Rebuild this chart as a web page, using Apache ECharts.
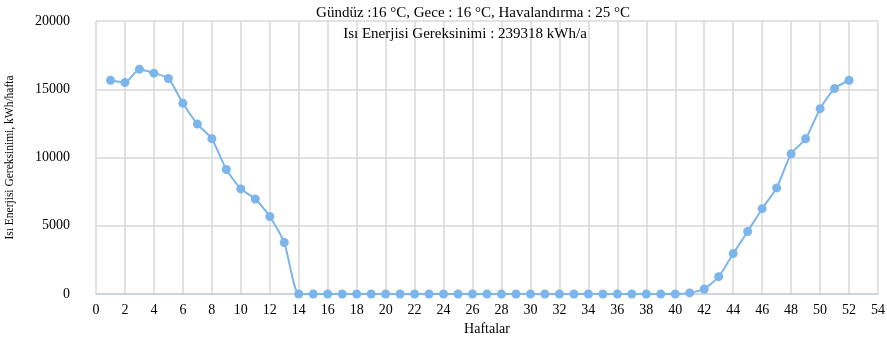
<!DOCTYPE html>
<html>
<head>
<meta charset="utf-8">
<script src="https://cdn.jsdelivr.net/npm/echarts@6/dist/echarts.min.js"></script>
<style>
html,body{margin:0;padding:0;background:#fff;}
#chart{width:887px;height:338px;}
</style>
</head>
<body>
<div id="chart"></div>
<script>
// haftalik isi enerjisi gereksinimi (kWh/hafta)
var weeks = [];
for (var w = 1; w <= 52; w++) weeks.push(w);
var heatDemand = [
  15660, 15490, 16470, 16180, 15790, 13970, 12450, 11370, 9120, 7700,
  6960, 5680, 3770, 0, 0, 0, 0, 0, 0, 0,
  0, 0, 0, 0, 0, 0, 0, 0, 0, 0,
  0, 0, 0, 0, 0, 0, 0, 0, 0, 0,
  80, 370, 1270, 2960, 4580, 6250, 7770, 10270, 11370, 13580,
  15050, 15660
];
var titleTexts = ['Gündüz :16 °C, Gece : 16 °C, Havalandırma : 25 °C', 'Isı Enerjisi Gereksinimi : 239318 kWh/a'];

var seriesData = weeks.map(function (w, i) { return [w, heatDemand[i]]; });

var myChart = echarts.init(document.getElementById('chart'));
var fontFam = '"Liberation Serif", "DejaVu Serif", serif';
option = {
  animation: false,
  textStyle: { fontFamily: fontFam },
  title: [
    {
      text: titleTexts[0],
      left: 468, top: 1, textAlign: 'center',
      textStyle: { fontSize: 15, fontWeight: 'normal', color: '#000', fontFamily: fontFam }
    },
    {
      text: titleTexts[1],
      left: 460, top: 22, textAlign: 'center',
      textStyle: { fontSize: 15, fontWeight: 'normal', color: '#000', fontFamily: fontFam }
    }
  ],
  grid: { left: 96, right: 9, top: 21, bottom: 44, outerBoundsMode: 'none', containLabel: false },
  xAxis: {
    type: 'value',
    min: 0, max: 54, interval: 2,
    name: 'Haftalar',
    nameLocation: 'middle',
    nameGap: 26,
    nameTextStyle: { fontSize: 14, color: '#000', fontFamily: fontFam },
    axisLine: { lineStyle: { color: '#c5d0e3', width: 1.5 } },
    axisTick: { show: false },
    axisLabel: { fontSize: 14, color: '#000', margin: 9, fontFamily: fontFam },
    splitLine: { show: true, lineStyle: { color: '#d9d9d9', width: 1.5 } }
  },
  yAxis: {
    type: 'value',
    min: 0, max: 20000, interval: 5000,
    name: 'Isı Enerjisi Gereksinimi, kWh/hafta',
    nameLocation: 'middle',
    nameGap: 80,
    nameTextStyle: { fontSize: 11.5, color: '#000', fontFamily: fontFam },
    axisLine: { show: false },
    axisTick: { show: false },
    axisLabel: {
      fontSize: 14, color: '#000', margin: 26, fontFamily: fontFam,
      formatter: function (v) { return String(v); }
    },
    splitLine: { show: true, lineStyle: { color: '#d9d9d9', width: 1.5 } }
  },
  series: [
    {
      type: 'line',
      data: seriesData,
      smooth: 0.2,
      symbol: 'circle',
      symbolSize: 9,
      itemStyle: { color: '#7cb5ec' },
      lineStyle: { color: '#7cb5ec', width: 2 }
    }
  ]
};
myChart.setOption(option);
window.addEventListener('resize', function () {
  myChart.resize();
});
</script>
</body>
</html>
